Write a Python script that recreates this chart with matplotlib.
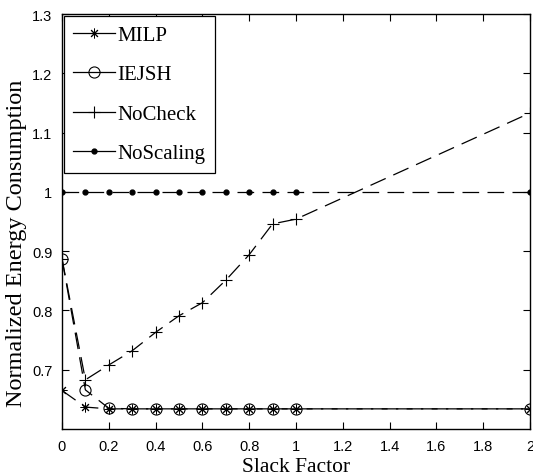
import matplotlib
matplotlib.use('Agg')
import matplotlib.pyplot as plt
from matplotlib.lines import Line2D

# slack factor values used in the runs
slack = [0, 0.1, 0.2, 0.3, 0.4, 0.5, 0.6, 0.7, 0.8, 0.9, 1.0, 2.0]

milp = [0.665, 0.637, 0.634, 0.634, 0.634, 0.634, 0.634, 0.634, 0.634, 0.634, 0.634, 0.634]
iejsh = [0.887, 0.666, 0.635, 0.634, 0.634, 0.634, 0.634, 0.634, 0.634, 0.634, 0.634, 0.634]
nocheck = [0.887, 0.683, 0.708, 0.732, 0.763, 0.791, 0.813, 0.851, 0.894, 0.946, 0.954, 1.133]
noscaling = [1, 1, 1, 1, 1, 1, 1, 1, 1, 1, 1, 1]

xticks = [0, 0.2, 0.4, 0.6, 0.8, 1.0, 1.2, 1.4, 1.6, 1.8, 2.0]
xticklabels = ['0', '0.2', '0.4', '0.6', '0.8', '1', '1.2', '1.4', '1.6', '1.8', '2']
yticks = [0.7, 0.8, 0.9, 1.0, 1.1, 1.2, 1.3]
yticklabels = ['0.7', '0.8', '0.9', '1', '1.1', '1.2', '1.3']

plt.rcParams['lines.scale_dashes'] = False
serif = 'Liberation Serif'
asterisk = (8, 2, 0)

fig = plt.figure(figsize=(5.33, 4.77), dpi=100)
ax = fig.add_axes([0.1163, 0.0985, 0.878, 0.870])

dash = (12, 6)
ax.plot(slack, noscaling, color='k', lw=0.9, dashes=dash, marker='.', ms=7)
ax.plot(slack, nocheck, color='k', lw=0.9, dashes=dash, marker='+', ms=9, mew=0.8)
ax.plot(slack, iejsh, color='k', lw=0.9, dashes=dash, marker='o', ms=8, mfc='none', mew=0.8)
ax.plot(slack, milp, color='k', lw=0.9, dashes=dash, marker=asterisk, ms=7, mew=0.7)

ax.set_xlim(0, 2)
ax.set_ylim(0.6, 1.3)
ax.set_xticks(xticks)
ax.set_xticklabels(xticklabels)
ax.set_yticks(yticks)
ax.set_yticklabels(yticklabels)
ax.tick_params(direction='in', length=5, width=0.8, top=True, right=True,
               labelsize=10.5, pad=7)
for lab in ax.get_xticklabels() + ax.get_yticklabels():
    lab.set_family('Liberation Sans')
for s in ax.spines.values():
    s.set_linewidth(1.0)

ax.set_xlabel('Slack Factor', family=serif, fontsize=15.5, labelpad=3)
ax.set_ylabel('Normalized Energy Consumption', family=serif, fontsize=17.5)
ax.yaxis.set_label_coords(-0.075, 0.45)

handles = [
    Line2D([], [], color='k', lw=0.9, marker=asterisk, ms=7, mew=0.7),
    Line2D([], [], color='k', lw=0.9, marker='o', ms=8, mfc='none', mew=0.8),
    Line2D([], [], color='k', lw=0.9, marker='+', ms=9, mew=0.8),
    Line2D([], [], color='k', lw=0.9, marker='.', ms=7),
]
names = ['MILP', 'IEJSH', 'NoCheck', 'NoScaling']
leg = ax.legend(handles, names, loc='upper left', prop={'family': serif, 'size': 15},
                fancybox=False, edgecolor='k', framealpha=1, borderaxespad=0.1,
                handlelength=2.0, handletextpad=0.1, labelspacing=0.95,
                borderpad=0.45)
leg.get_frame().set_linewidth(0.9)

fig.savefig('out.png', dpi=100)
